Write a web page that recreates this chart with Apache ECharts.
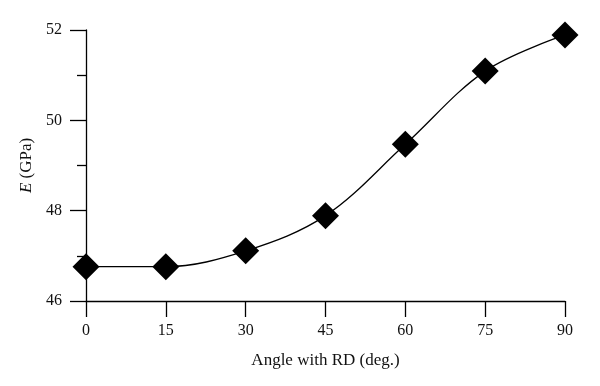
<!DOCTYPE html>
<html><head><meta charset="utf-8">
<script src="https://cdn.jsdelivr.net/npm/echarts@6/dist/echarts.min.js"></script>
<style>html,body{margin:0;padding:0;background:#fff}#c{width:600px;height:386px}</style>
</head><body><div id="c"></div>
<script>
var angles = [0, 15, 30, 45, 60, 75, 90];
var modulus = [46.76, 46.76, 47.11, 47.89, 49.47, 51.09, 51.89];
var xTicks = [0, 15, 30, 45, 60, 75, 90];
var yTicks = [46, 48, 50, 52];

var font = "'Liberation Serif', 'DejaVu Serif', serif";
var chart = echarts.init(document.getElementById('c'), null, {renderer: 'canvas'});
chart.setOption({
  animation: false,
  backgroundColor: '#fff',
  grid: {left: 86, right: 35, top: 30, bottom: 85},
  xAxis: {
    type: 'value', min: xTicks[0], max: xTicks[xTicks.length - 1], interval: 15,
    name: 'Angle with RD (deg.)', nameLocation: 'middle', nameGap: 51,
    nameTextStyle: {fontFamily: font, fontSize: 17, color: '#111'},
    axisLine: {show: true, lineStyle: {color: '#000', width: 1.3}},
    axisTick: {show: true, inside: false, length: 16, lineStyle: {color: '#000', width: 1.3}},
    axisLabel: {margin: 22, fontFamily: font, fontSize: 16, color: '#111'},
    splitLine: {show: false}
  },
  yAxis: {
    type: 'value', min: yTicks[0], max: yTicks[yTicks.length - 1], interval: 2,
    name: '{i|E} (GPa)', nameLocation: 'middle', nameGap: 50, nameRotate: 90,
    nameTextStyle: {fontFamily: font, fontSize: 17, color: '#111',
      rich: {i: {fontFamily: font, fontSize: 17, fontStyle: 'italic', color: '#111'}}},
    axisLine: {show: true, lineStyle: {color: '#000', width: 1.3}},
    axisTick: {show: true, inside: false, length: 16, lineStyle: {color: '#000', width: 1.3}},
    minorTick: {show: true, splitNumber: 2, length: 9, lineStyle: {color: '#000', width: 1.3}},
    axisLabel: {margin: 24, fontFamily: font, fontSize: 16, color: '#111'},
    splitLine: {show: false}
  },
  series: [{
    type: 'line',
    data: angles.map(function (a, i) { return [a, modulus[i]]; }),
    smooth: 0.35,
    symbol: 'diamond',
    symbolSize: 27,
    itemStyle: {color: '#000'},
    lineStyle: {color: '#000', width: 1.3},
    clip: false
  }]
});
</script></body></html>
